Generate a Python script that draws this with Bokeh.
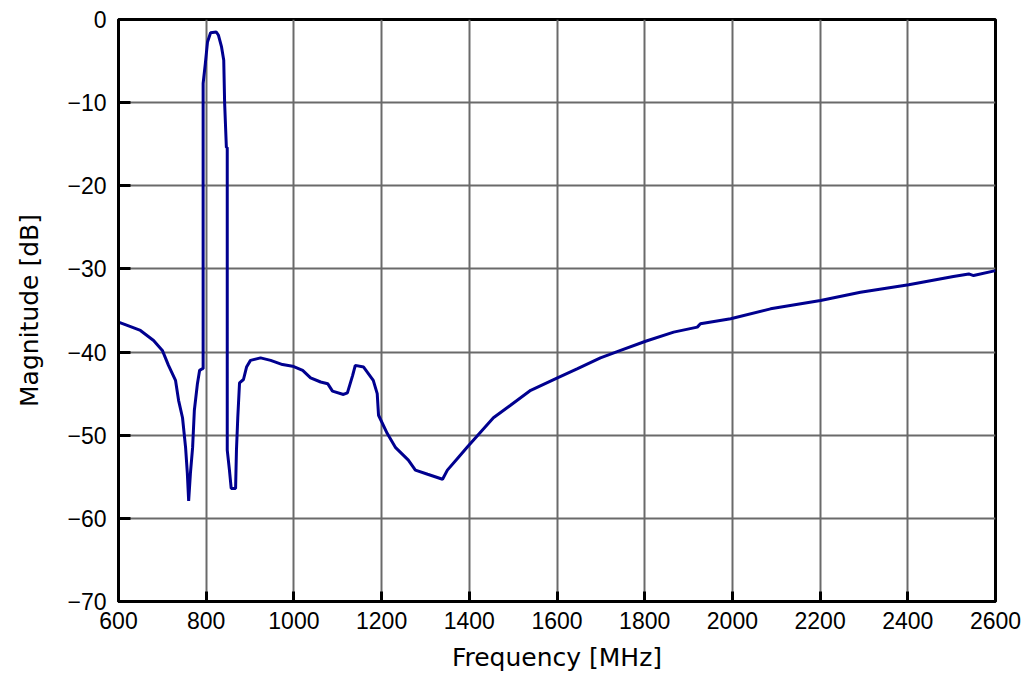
from bokeh.plotting import figure
from bokeh.models import Range1d, FixedTicker
from bokeh.embed import file_html
from bokeh.resources import INLINE

# Data
freq_mhz = [600, 620, 650, 680, 700, 714, 730, 737, 746, 753, 757, 760, 764, 769, 773,
            780, 785, 791, 793, 793, 798, 803, 810, 823, 828, 835, 840, 842, 846, 848,
            848, 853, 857, 867, 869, 872, 876, 885, 892, 901, 924, 947, 974, 997, 1020,
            1038, 1061, 1077, 1088, 1113, 1122, 1134, 1140, 1159, 1181, 1190, 1193, 1213,
            1232, 1261, 1277, 1305, 1339, 1350, 1373, 1396, 1426, 1455, 1494, 1540, 1601,
            1647, 1699, 1745, 1802, 1866, 1920, 1927, 1996, 2087, 2201, 2292, 2402, 2504,
            2539, 2550, 2600]
magnitude_db = [-36.4, -36.8, -37.4, -38.6, -39.8, -41.6, -43.4, -45.8, -47.9, -51.5,
                -54.6, -57.9, -54.6, -51.5, -47.0, -43.8, -42.2, -42.0, -42.0, -7.7,
                -5.3, -2.7, -1.6, -1.5, -1.9, -3.3, -4.9, -10.0, -15.4, -15.4,
                -51.8, -54.2, -56.4, -56.4, -51.8, -47.9, -43.7, -43.3, -41.8, -41.0,
                -40.7, -41.0, -41.5, -41.7, -42.2, -43.1, -43.6, -43.8, -44.7, -45.1,
                -44.9, -42.8, -41.6, -41.8, -43.4, -45.0, -47.6, -49.8, -51.5, -53.0,
                -54.2, -54.7, -55.3, -54.2, -52.8, -51.4, -49.6, -47.9, -46.4, -44.6,
                -43.1, -42.0, -40.7, -39.8, -38.7, -37.6, -37.0, -36.6, -36.0, -34.8,
                -33.8, -32.8, -31.9, -30.9, -30.6, -30.8, -30.2]

x_ticks = [600, 800, 1000, 1200, 1400, 1600, 1800, 2000, 2200, 2400, 2600]
y_ticks = [0, -10, -20, -30, -40, -50, -60, -70]
y_tick_labels = ["0", "\u221210", "\u221220", "\u221230", "\u221240", "\u221250", "\u221260", "\u221270"]

p = figure(width=1030, height=674, output_backend="svg", toolbar_location=None,
           x_range=Range1d(600, 2600), y_range=Range1d(-70, 0),
           min_border_left=118, min_border_right=35, min_border_top=19, min_border_bottom=60)

p.line(freq_mhz, magnitude_db, line_color="#00008f", line_width=3)

p.outline_line_color = "black"
p.outline_line_width = 3
p.background_fill_color = "white"
p.border_fill_color = "white"

p.xaxis.ticker = FixedTicker(ticks=x_ticks)
p.yaxis.ticker = FixedTicker(ticks=y_ticks)
p.yaxis.major_label_overrides = {t: s for t, s in zip(y_ticks, y_tick_labels)}

p.xgrid.grid_line_color = "#6a6a6a"
p.ygrid.grid_line_color = "#6a6a6a"
p.xgrid.grid_line_width = 2
p.ygrid.grid_line_width = 2

for ax in (p.xaxis[0], p.yaxis[0]):
    ax.axis_line_color = "black"
    ax.axis_line_width = 3
    ax.major_tick_line_color = "black"
    ax.major_tick_line_width = 3
    ax.major_tick_out = 0
    ax.minor_tick_line_color = None
    ax.major_label_text_font = "Liberation Sans"
    ax.major_label_text_font_size = "23px"
    ax.major_label_text_color = "black"
    ax.axis_label_text_font = "DejaVu Sans"
    ax.axis_label_text_font_size = "25px"
    ax.axis_label_text_font_style = "normal"
    ax.axis_label_text_color = "black"

p.xaxis.major_tick_in = 10
p.yaxis.major_tick_in = 12
p.xaxis.major_label_standoff = 10
p.yaxis.major_label_standoff = 12
p.xaxis.axis_label = "Frequency [MHz]"
p.yaxis.axis_label = "Magnitude [dB]"
p.xaxis.axis_label_standoff = 11
p.yaxis.axis_label_standoff = 20

open("out.html", "w").write(file_html(p, INLINE))
